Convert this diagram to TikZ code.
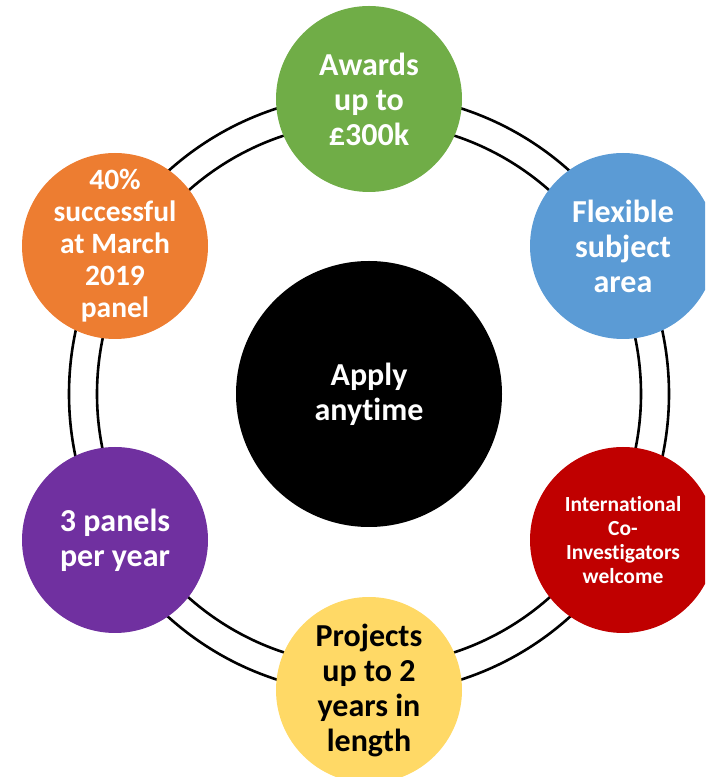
\documentclass[tikz,border=0pt]{standalone}
\usepackage{fontspec}
\setmainfont[Ligatures=NoCommon]{Carlito}
\definecolor{cgreen}{HTML}{70AD47}
\definecolor{cblue}{HTML}{5B9BD5}
\definecolor{cred}{HTML}{C00000}
\definecolor{cyellow}{HTML}{FFD966}
\definecolor{corange}{HTML}{ED7D31}
\definecolor{cpurple}{HTML}{7030A0}
\begin{document}
\begin{tikzpicture}[x=1pt,y=1pt,
  bubble/.style={circle,minimum size=186pt,inner sep=-30pt,align=center,text=white,
    font=\bfseries\fontsize{32}{35}\selectfont},
  ringline/.style={line width=2.6pt,black}]
\useasboundingbox (0,0) rectangle (705,777);
\clip (0,0) rectangle (705,777);
\coordinate (c) at (369,383);
\draw[ringline] (c) circle (300);
\draw[ringline] (c) circle (272);
\node[bubble,fill=black,minimum size=266pt] (center) at (c) {Apply\\anytime};
\node[bubble,fill=cgreen] (awards) at (369,678) {Awards\\up to\\£300k};
\node[bubble,fill=cblue] (flex) at (623,531) {Flexible\\subject\\area};
\node[bubble,fill=cred,font=\bfseries\fontsize{21.5}{24}\selectfont] (intl) at (623,237) {International\\Co-\\Investigators\\welcome};
\node[bubble,fill=cyellow,text=black] (proj) at (369,87) {Projects\\up to 2\\years in\\length};
\node[bubble,fill=cpurple] (panels) at (115,237) {3 panels\\per year};
\node[bubble,fill=corange,font=\bfseries\fontsize{29.5}{32}\selectfont] (succ) at (115,531) {40\%\\successful\\at March\\2019\\panel};
\end{tikzpicture}
\end{document}
